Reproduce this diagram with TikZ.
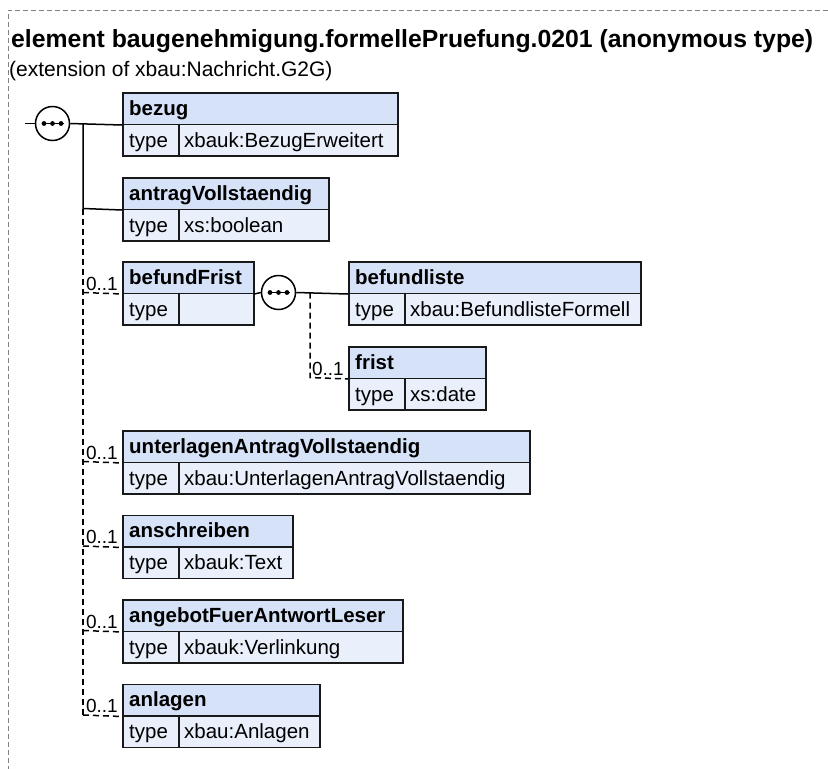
\documentclass[tikz,border=0pt]{standalone}
\usepackage{fontspec}
\setmainfont{Liberation Sans}
\definecolor{hdrblue}{RGB}{214,226,247}
\definecolor{rowblue}{RGB}{233,240,251}
\definecolor{framegray}{RGB}{130,130,130}
\tikzset{
  hdrcell/.style={draw=black!90, line width=1.5pt, fill=hdrblue, anchor=north west, inner sep=0pt, minimum height=31.5pt},
  rowcell/.style={draw=black!90, line width=1.5pt, fill=rowblue, anchor=north west, inner sep=0pt, minimum height=31.5pt},
  boxtitle/.style={anchor=base west, inner sep=0pt, font=\fontsize{20.5}{24}\selectfont\bfseries},
  boxtext/.style={anchor=base west, inner sep=0pt, font=\fontsize{20.5}{24}\selectfont},
  mult/.style={anchor=base east, inner sep=0pt, font=\fontsize{19}{22}\selectfont},
  conn/.style={line width=1.5pt, black},
  optconn/.style={line width=1.5pt, black, dash pattern=on 6pt off 4pt},
  seqnode/.style={circle, draw=black, line width=1.5pt, fill=white, minimum size=34pt, inner sep=0pt},
  frame/.style={framegray, line width=1pt, dash pattern=on 5pt off 3pt}
}
% #1 name, #2 left x, #3 top y, #4 right x, #5 title, #6 type
\newcommand\xelem[6]{%
  \node[hdrcell, minimum width={(#4-#2)*1pt}] (#1) at (#2,#3) {};
  \node[rowcell, minimum width={(#4-#2)*1pt}] (#1row) at (#2,{#3+31.5}) {};
  \node[rowcell, minimum width=56pt] (#1type) at (#2,{#3+31.5}) {};
  \node[boxtitle] (#1name) at ({#2+7},{#3+23}) {#5};
  \node[boxtext] (#1tl) at ({#2+7},{#3+55}) {type};
  \node[boxtext] (#1tv) at ({#2+62},{#3+55}) {#6};
}
\newcommand\seqdots[1]{%
  \draw[line width=1.3pt] ([xshift=-11pt]#1.center) -- ([xshift=11pt]#1.center);
  \foreach \dx in {-8.5,0,8.5} \fill ([xshift=\dx pt]#1.center) circle (2.4pt);
}
\begin{document}
\begin{tikzpicture}[x=1pt,y=-1pt]
\useasboundingbox (0,0) rectangle (828,769);
\fill[white] (0,0) rectangle (828,769);
% frame
\coordinate (fTR) at (828,10);
\coordinate (fTL) at (8,10);
\coordinate (fBL) at (8,769);
\draw[frame] (fTR) -- (fTL) -- (fBL);
% title
\node[anchor=base west, inner sep=0pt, font=\fontsize{24.8}{28}\selectfont\bfseries] (title) at (11,47) {element baugenehmigung.formellePruefung.0201 (anonymous type)};
\node[anchor=base west, inner sep=0pt, font=\fontsize{21}{25}\selectfont] (subtitle) at (9,76) {(extension of xbau:Nachricht.G2G)};
% elements
\xelem{bezug}{122}{92}{397}{bezug}{xbauk:BezugErweitert}
\xelem{antrag}{122}{177}{328}{antragVollstaendig}{xs:boolean}
\xelem{befundFrist}{122}{261}{253}{befundFrist}{}
\xelem{befundliste}{348}{261}{640}{befundliste}{xbau:BefundlisteFormell}
\xelem{frist}{348}{346}{485}{frist}{xs:date}
\xelem{unterlagen}{122}{430}{529}{unterlagenAntragVollstaendig}{xbau:UnterlagenAntragVollstaendig}
\xelem{anschreiben}{122}{514.5}{292}{anschreiben}{xbauk:Text}
\xelem{angebot}{122}{599}{402}{angebotFuerAntwortLeser}{xbauk:Verlinkung}
\xelem{anlagen}{122}{683.5}{319}{anlagen}{xbau:Anlagen}
% sequence compositors
\node[seqnode] (seq1) at (52.5,123.5) {};
\seqdots{seq1}
\node[seqnode] (seq2) at (278.5,292.5) {};
\seqdots{seq2}
% connectors main
\coordinate (in1) at (25,123.5);
\coordinate (j1) at (83,123.5);
\coordinate (j2) at (83,208.5);
\coordinate (jend) at (83,715);
\draw[conn] (in1) -- (seq1.west);
\draw[conn] (seq1.east) -- (bezug.south west);
\draw[conn] (j1) -- (j2) -- (antrag.south west);
\draw[optconn] (j2) -- (jend);
\foreach \n/\y in {befundFrist/292.5, unterlagen/461.5, anschreiben/546, angebot/630.5, anlagen/715}{
  \coordinate (j\n) at (83,\y);
  \draw[optconn] (j\n) -- (\n.south west);
  \node[mult] at ([xshift=-4pt,yshift=4pt]\n.south west) {0..1};
}
% befundFrist sub-sequence
\draw[conn] (befundFrist.south east) -- (seq2.west);
\draw[conn] (seq2.east) -- (befundliste.south west);
\coordinate (k1) at (310,292.5);
\coordinate (k2) at (310,377.5);
\draw[optconn] (k1) -- (k2) -- (frist.south west);
\node[mult] at ([xshift=-4pt,yshift=4pt]frist.south west) {0..1};
\end{tikzpicture}
\end{document}
